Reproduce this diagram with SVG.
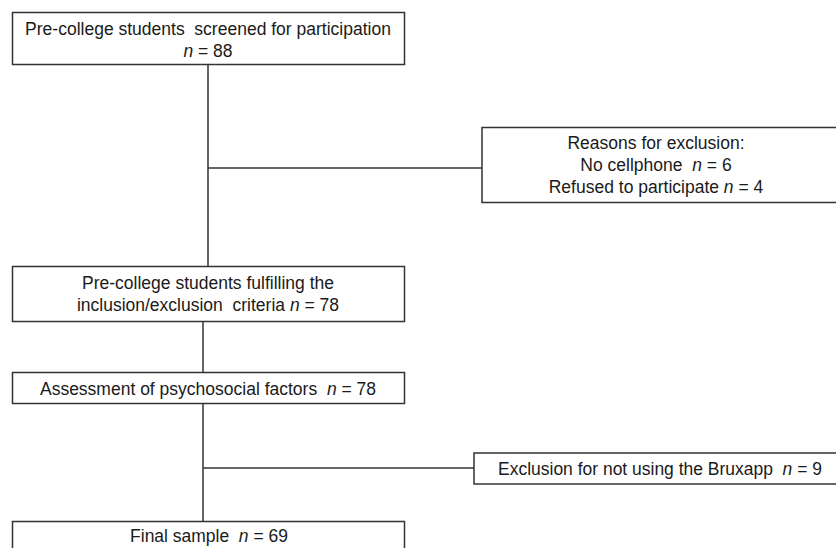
<svg xmlns="http://www.w3.org/2000/svg" width="836" height="548" viewBox="0 0 836 548">
<style>
.box{fill:#fff;stroke:#333;stroke-width:1.5}
.ln{stroke:#333;stroke-width:1.5;fill:none}
text{font-family:"Liberation Sans",Arial,sans-serif;font-size:17.5px;fill:#1a1a1a;text-anchor:middle;white-space:pre}
.c{font-size:18.5px}
.i{font-style:italic}
</style>
<rect width="836" height="548" fill="#fff"/>
<g id="connectors">
<line class="ln" x1="208" y1="64" x2="208" y2="266"/>
<line class="ln" x1="208" y1="168" x2="482" y2="168"/>
<line class="ln" x1="203" y1="321" x2="203" y2="372"/>
<line class="ln" x1="203" y1="404" x2="203" y2="521"/>
<line class="ln" x1="203" y1="468" x2="474" y2="468"/>
</g>
<g id="screened">
<rect class="box" x="12.5" y="12.5" width="392" height="52"/>
<text x="208" y="35">Pre-college students  screened for participation</text>
<text x="208" y="57"><tspan class="i">n</tspan> = 88</text>
</g>
<g id="reasons">
<rect class="box" x="482" y="127.5" width="360" height="75"/>
<text x="656" y="149">Reasons for exclusion:</text>
<text x="656" y="171">No cellphone  <tspan class="i">n</tspan> = 6</text>
<text x="656" y="193">Refused to participate <tspan class="i">n</tspan> = 4</text>
</g>
<g id="fulfilling">
<rect class="box" x="12.5" y="266.5" width="392" height="55"/>
<text x="208" y="289">Pre-college students fulfilling the</text>
<text x="208" y="311">inclusion/exclusion  criteria <tspan class="i">n</tspan> = 78</text>
</g>
<g id="assessment">
<rect class="box" x="12.5" y="372.5" width="392" height="31"/>
<text x="208" y="395">Assessment of psychosocial factors  <tspan class="i">n</tspan> = 78</text>
</g>
<g id="bruxapp">
<rect class="box" x="474" y="453" width="370" height="31"/>
<text class="c" transform="translate(660 475) scale(0.945 1)">Exclusion for not using the Bruxapp  <tspan class="i">n</tspan> = 9</text>
</g>
<g id="final">
<rect class="box" x="12.5" y="521.5" width="392" height="40"/>
<text class="c" transform="translate(209 542) scale(0.945 1)">Final sample  <tspan class="i">n</tspan> = 69</text>
</g>
</svg>
